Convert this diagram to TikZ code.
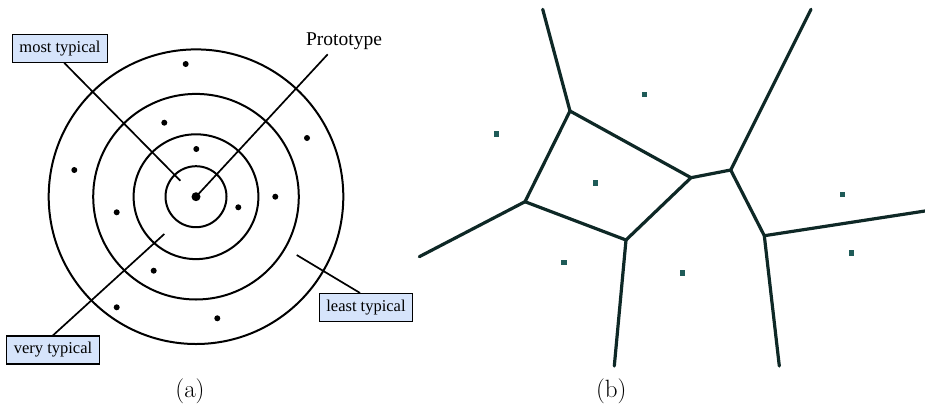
\documentclass[tikz,border=0pt]{standalone}
\usepackage{fontspec}
\newfontfamily\timesf{Liberation Serif}
\definecolor{boxfill}{HTML}{D6E4FB}
\definecolor{vline}{HTML}{0E2826}
\definecolor{vdot}{HTML}{1F5B58}
\tikzset{
  ring/.style={draw=black, line width=2pt},
  lead/.style={draw=black, line width=1.7pt},
  dotpt/.style={circle, fill=black, inner sep=0pt, minimum size=6pt},
  bigpt/.style={circle, fill=black, inner sep=0pt, minimum size=9pt},
  lab/.style={draw=black, fill=boxfill, line width=1.3pt, font=\timesf\fontsize{16.5}{18}\selectfont,
    inner xsep=7pt, inner ysep=0pt, minimum height=28pt, text height=11.5pt, text depth=3.8pt},
  vedge/.style={draw=vline, line width=3.2pt, line cap=round, line join=round},
  site/.style={rectangle, fill=vdot, inner sep=0pt, minimum size=5.5pt},
  captxt/.style={font=\fontsize{25}{29}\selectfont, inner sep=0pt, text height=0.75em, text depth=0.25em}
}
\begin{document}
\begin{tikzpicture}[x=1pt, y=-1pt]
\useasboundingbox (0,0) rectangle (925,407);
% ---------- (a) ----------
\coordinate (O) at (196,196.7);
\draw[ring] (O) circle (30.5pt);
\draw[ring] (O) circle (62.4pt);
\draw[ring] (O) circle (102.8pt);
\draw[ring] (O) circle (147.3pt);
\node[bigpt] (P) at (O) {};
\foreach \n/\x/\y in {p1/185.7/64, p2/164.3/122.7, p3/307/138, p4/196.3/149, p5/74.3/170,
  p6/275.3/196.7, p7/238.3/207.3, p8/116.7/212.3, p9/153.7/270.7, p10/116.7/307.3, p11/217.3/318.3}
  \node[dotpt] (\n) at (\x,\y) {};
\node[lab] (mt) at (60,48.3) {most typical};
\node[lab] (lt) at (366,307.6) {least typical};
\node[lab] (vt) at (53,350) {very typical};
\node[font=\timesf\fontsize{19.5}{22}\selectfont, inner sep=0pt] (proto) at (344,41) {Prototype};
\coordinate (protoend) at (327.7,54.3);
\coordinate (mtend) at (180.3,180.7);
\coordinate (vtend) at (164.3,234);
\coordinate (ltend) at (296.7,255);
\draw[lead] (protoend) -- (P.center);
\draw[lead] ([xshift=4.3pt]mt.south) -- (mtend);
\draw[lead] (vt.north) -- (vtend);
\draw[lead] ([xshift=-6pt]lt.north) -- (ltend);
\node[captxt] (capa) at (190,394.5) {(a)};
% ---------- (b) ----------
\coordinate (A) at (570,111);
\coordinate (B) at (525,201.7);
\coordinate (C) at (626,240);
\coordinate (D) at (691,177.7);
\coordinate (E) at (730.7,170);
\coordinate (F) at (764.3,235.7);
\coordinate (At) at (542.7,9.3);
\coordinate (Bl) at (419.3,256.7);
\coordinate (Cb) at (614.3,366);
\coordinate (Et) at (811,9.3);
\coordinate (Fr) at (925,211);
\coordinate (Fb) at (779.3,366);
\draw[vedge] (At) -- (A) -- (B) -- (C) -- (D) -- (A);
\draw[vedge] (Bl) -- (B);
\draw[vedge] (C) -- (Cb);
\draw[vedge] (D) -- (E) -- (Et);
\draw[vedge] (E) -- (F) -- (Fr);
\draw[vedge] (F) -- (Fb);
\foreach \n/\x/\y in {s1/644.3/94.7, s2/496.7/134, s3/595.7/183, s4/842.7/194.3,
  s5/564/262.3, s6/682.7/273, s7/851.3/253}
  \node[site] (\n) at (\x,\y) {};
\node[captxt] (capb) at (611.3,394.5) {(b)};
\end{tikzpicture}
\end{document}
